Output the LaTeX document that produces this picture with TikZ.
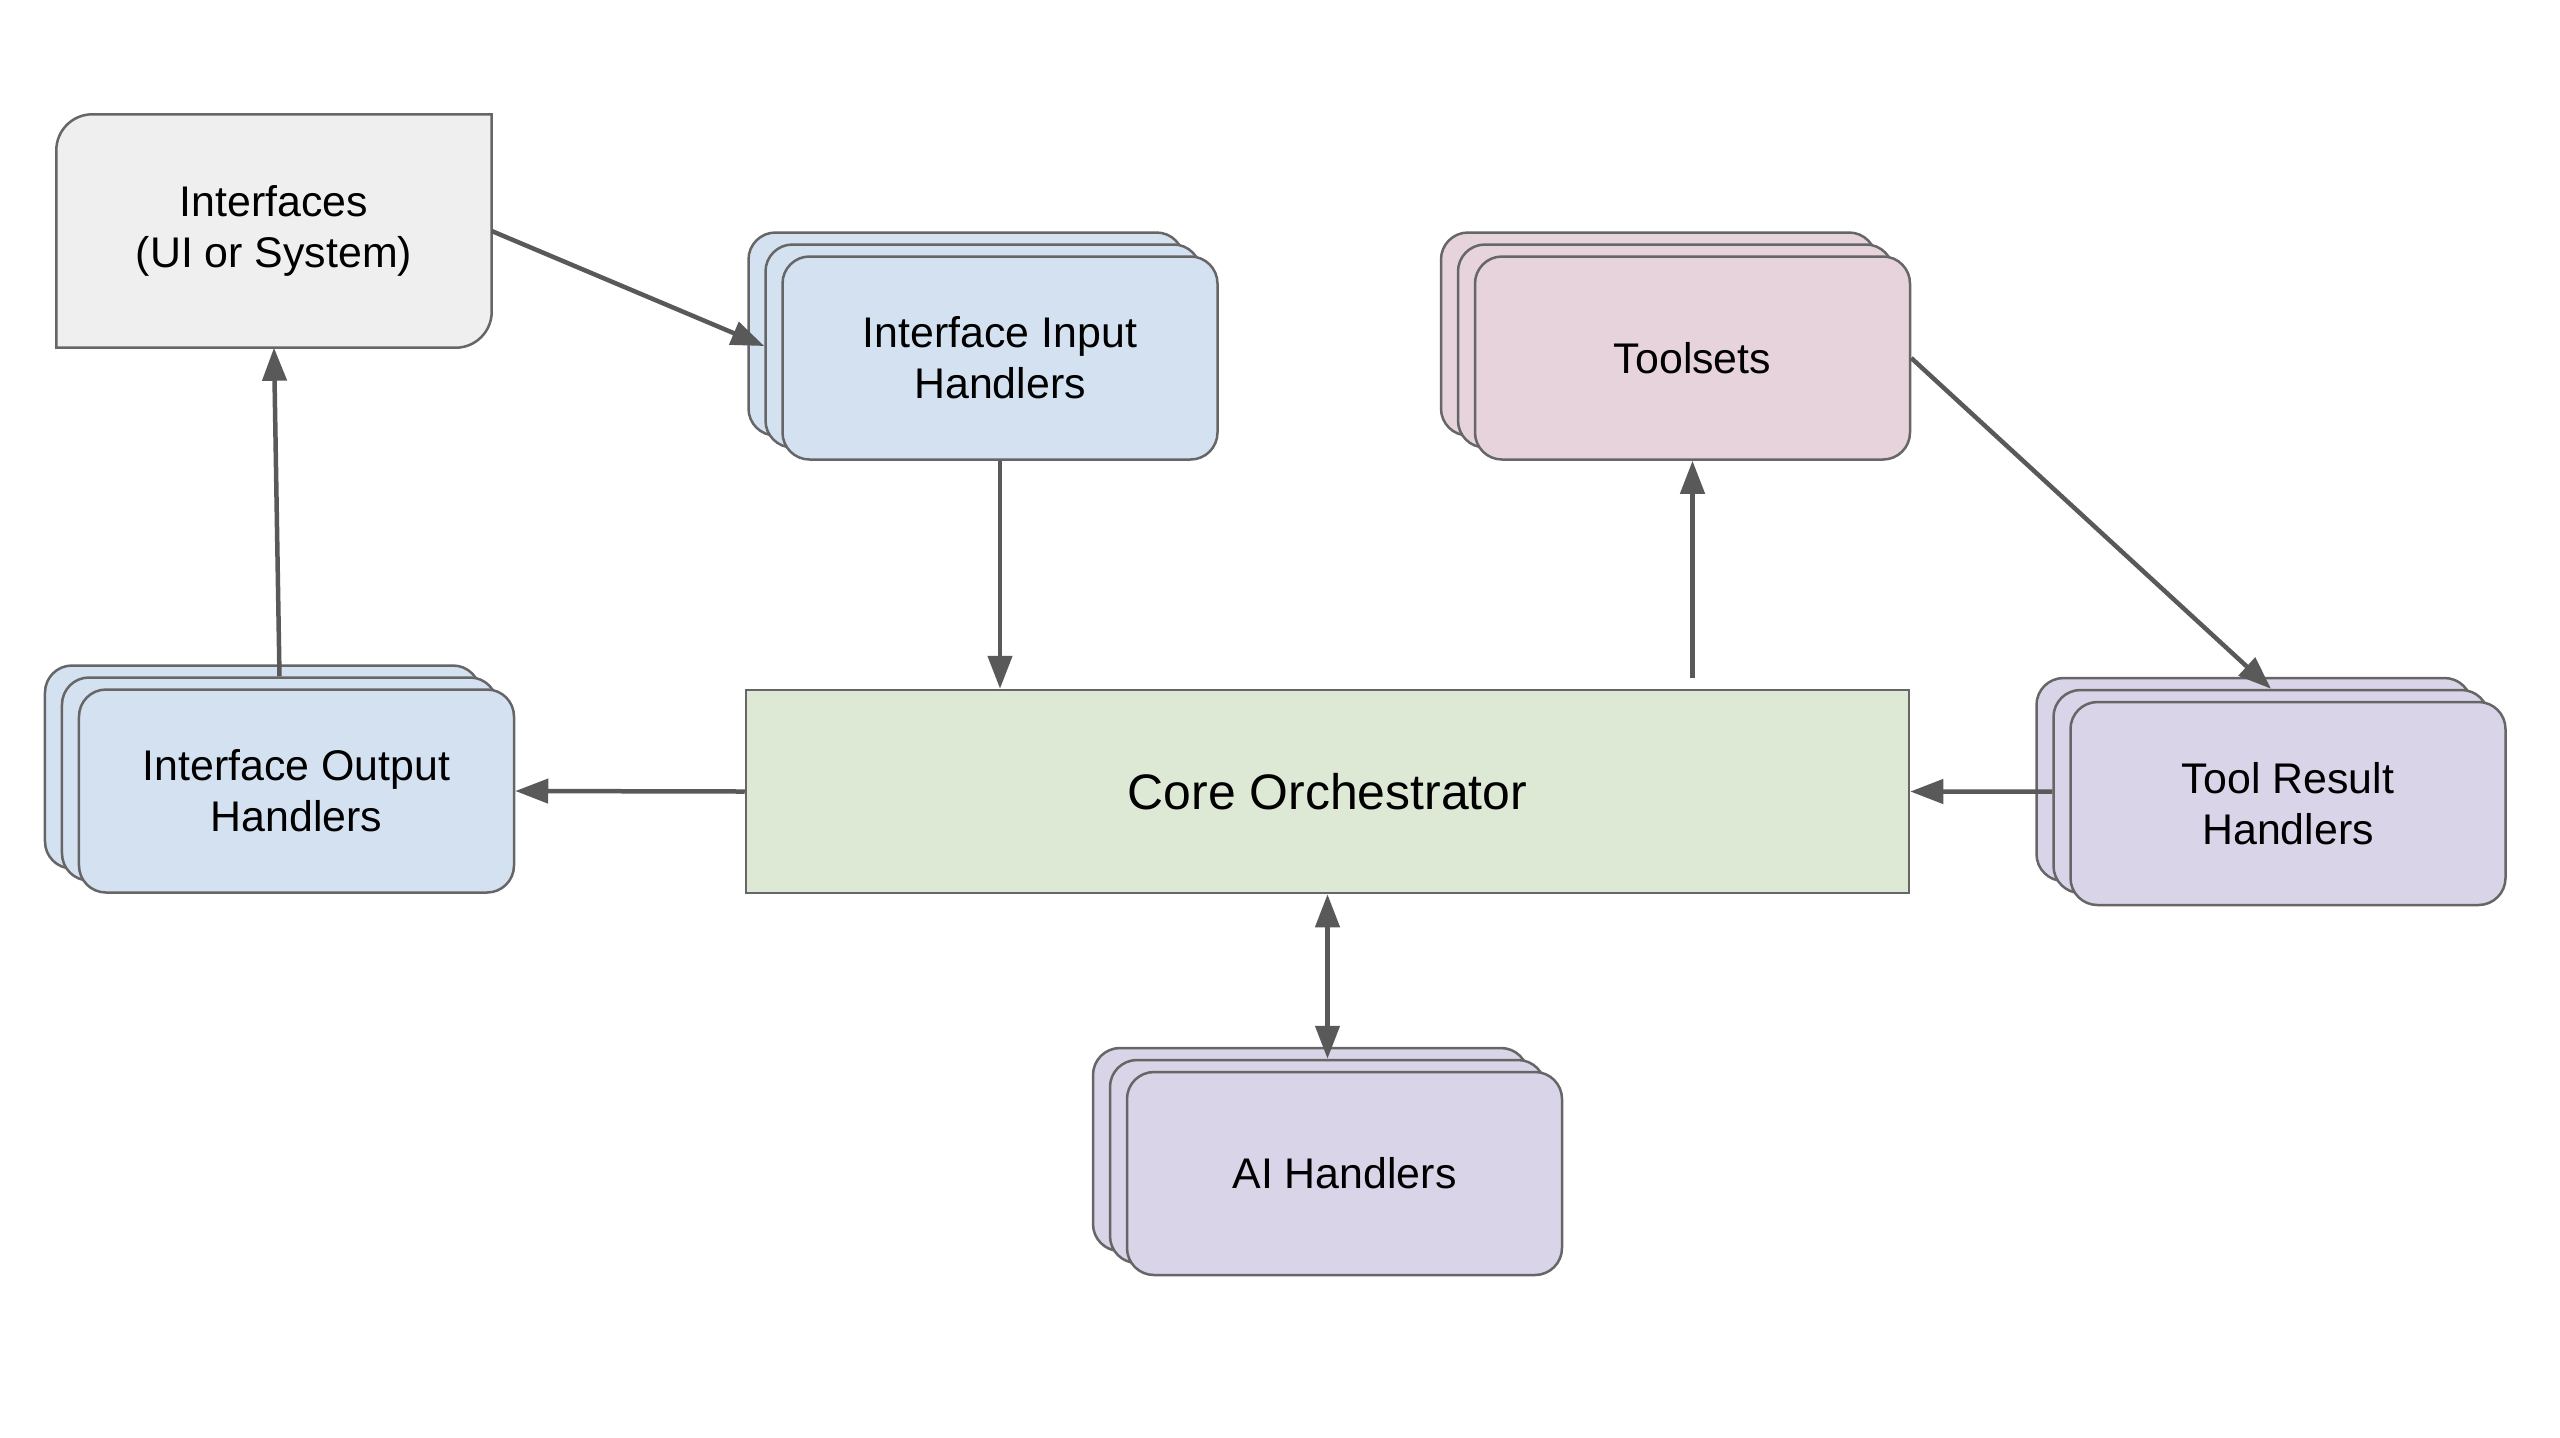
\documentclass[tikz,border=0pt]{standalone}
\usepackage{fontspec}
\setmainfont{Liberation Sans}
\usepackage{xcolor}
\usetikzlibrary{
    arrows.meta,
    calc,
    positioning,
    backgrounds
}
\definecolor{ifcgray}{HTML}{EFEFEF}
\definecolor{blueish}{HTML}{D4E1F1}
\definecolor{pinkish}{HTML}{E6D3DC}
\definecolor{purplish}{HTML}{D9D4E8}
\definecolor{greenish}{HTML}{DDE8D5}
\definecolor{edgegray}{HTML}{666666}
\definecolor{flowgray}{HTML}{595959}
\tikzset{
    card/.style={draw=edgegray, line width=0.25mm, rounded corners=2.7mm,
        minimum width=43.5mm, minimum height=20.3mm, inner sep=0pt,
        align=center, font=\fontsize{12.2}{14.5}\selectfont},
    flow/.style={draw=flowgray, line width=0.45mm,
        -{Triangle[length=3.3mm, width=2.4mm]}},
    flowboth/.style={flow, {Triangle[length=3.3mm, width=2.4mm]}-{Triangle[length=3.3mm, width=2.4mm]}}
}

\begin{document}
\begin{tikzpicture}[x=1mm, y=1mm]
                    \useasboundingbox (0, 0) rectangle (256, -143.7);

                    % interfaces box, two corners rounded
                    \node[minimum width=43.4mm, minimum height=23.2mm, inner sep=0pt,
                        align=center, font=\fontsize{12.2}{14.5}\selectfont]
                        (ifc) at (27.4, -23.1) {Interfaces\\(UI or System)};
                    \begin{scope}[on background layer]
                        \draw[draw=edgegray, fill=ifcgray, line width=0.25mm]
                        (ifc.south west) -- ([yshift=-3.6mm]ifc.north west)
                        arc[start angle=180, end angle=90, radius=3.6mm]
                        -- (ifc.north east) -- ([yshift=3.6mm]ifc.south east)
                        arc[start angle=0, end angle=-90, radius=3.6mm] -- cycle;
                    \end{scope}

                    \node[draw=edgegray, fill=greenish, line width=0.25mm,
                        minimum width=116.3mm, minimum height=20.3mm, inner sep=0pt,
                        font=\fontsize{14.2}{16}\selectfont]
                        (core) at (132.75, -79.15) {Core Orchestrator};

                    % stacks of handler cards
                    \foreach \n/\x/\y/\c/\t in {
                        iih/100.0/-35.8/blueish/{Interface Input\\Handlers},
                        ioh/29.65/-79.1/blueish/{Interface Output\\Handlers},
                        ts/169.25/-35.8/pinkish/{Toolsets},
                        trh/228.8/-80.35/purplish/{Tool Result\\Handlers},
                        aih/134.45/-117.35/purplish/{AI Handlers}} {
                        \node[card, fill=\c] (\n3) at (\x-3.4, \y+2.4) {};
                        \node[card, fill=\c] (\n2) at (\x-1.7, \y+1.2) {};
                        \node[card, fill=\c] (\n) at (\x, \y) {\t};
                    };

                    \coordinate (tsup) at ([yshift=1.1mm]ts.south |- core.north);

                    \draw[flow] (ifc.east) -- (iih2.west);
                    \draw[flow] (iih.south) -- (iih.south |- core.north);
                    \draw[flow] (ioh2.north) -- (ifc.south);
                    \draw[flow] (core.west) -- (ioh.east);
                    \draw[flow] (tsup) -- (ts.south);
                    \draw[flow] (ts.east) -- (trh2.north);
                    \draw[flow] (trh2.west) -- (core.east);
                    \draw[flowboth] (core.south) -- (aih2.north);
                \end{tikzpicture}
\end{document}
